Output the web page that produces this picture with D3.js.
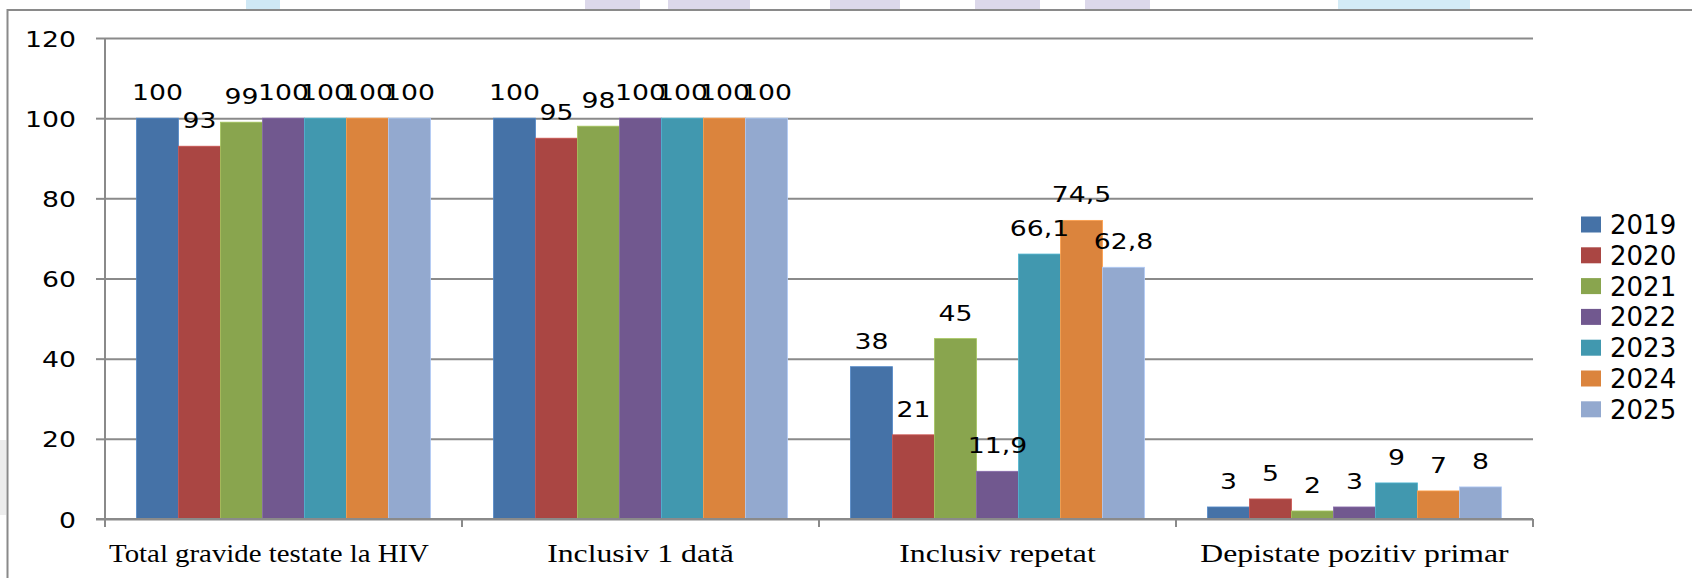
<!DOCTYPE html>
<html>
<head>
<meta charset="utf-8">
<script src="https://cdn.jsdelivr.net/npm/d3@7"></script>
<style>
html,body{margin:0;padding:0;background:#fff;}
svg{display:block;}
</style>
</head>
<body>
<svg id="chart" width="1692" height="578"></svg>
<script>
const categories = ["Total gravide testate la HIV", "Inclusiv 1 dată", "Inclusiv repetat", "Depistate pozitiv primar"];
const years = ["2019", "2020", "2021", "2022", "2023", "2024", "2025"];
const v2019 = [100, 100, 38, 3];
const v2020 = [93, 95, 21, 5];
const v2021 = [99, 98, 45, 2];
const v2022 = [100, 100, 11.9, 3];
const v2023 = [100, 100, 66.1, 9];
const v2024 = [100, 100, 74.5, 7];
const v2025 = [100, 100, 62.8, 8];
const yTicks = [0, 20, 40, 60, 80, 100, 120];
const colors = ["#4572A7", "#AA4643", "#89A54E", "#71588F", "#4198AF", "#DB843D", "#93A9CF"];

const series = [v2019, v2020, v2021, v2022, v2023, v2024, v2025];
const rows = [];
years.forEach((yr, si) => categories.forEach((c, ci) => rows.push({year: yr, cat: c, value: series[si][ci]})));

const svg = d3.select("#chart");
const SANS = "'DejaVu Sans', Verdana, sans-serif";
const SERIF = "'Liberation Serif', 'Times New Roman', serif";
const GRID = "#8a8a8a";

// faint watermark strips outside the chart frame
const wm = svg.append("g");
[[246, 280, "#cfe8f5"], [585, 640, "#dcd8ea"], [668, 750, "#dcd8ea"], [830, 900, "#dcd8ea"], [975, 1040, "#dcd8ea"], [1085, 1150, "#dcd8ea"], [1338, 1470, "#d3ebf6"]]
  .forEach(d => wm.append("rect").attr("x", d[0]).attr("y", 0).attr("width", d[1] - d[0]).attr("height", 9).attr("fill", d[2]));
wm.append("rect").attr("x", 0).attr("y", 440).attr("width", 6).attr("height", 75).attr("fill", "#ededed");

// chart frame
svg.append("path").attr("d", "M7.5,578 V10 H1692").attr("fill", "none").attr("stroke", GRID).attr("stroke-width", 2);

const pLeft = 105, pRight = 1533, pTop = 38, pBottom = 519;
const x0 = d3.scaleBand().domain(categories).range([pLeft, pRight]).padding(0);
const x1 = d3.scaleBand().domain(years).range([0, x0.bandwidth()]).paddingInner(0).paddingOuter(0.75);
const y = d3.scaleLinear().domain([0, 120]).range([pBottom, pTop]);
const color = d3.scaleOrdinal().domain(years).range(colors);

// gridlines + y axis ticks
const yAxis = d3.axisLeft(y).tickValues(yTicks).tickSize(9).tickFormat(d => d);
const gy = svg.append("g").attr("transform", `translate(${pLeft},0)`).call(yAxis);
gy.select(".domain").remove();
gy.selectAll(".tick line").attr("stroke", GRID).attr("stroke-width", 2);
gy.selectAll(".tick text").remove();
gy.selectAll(".tick").append("line").attr("x1", 0).attr("x2", pRight - pLeft).attr("stroke", GRID).attr("stroke-width", 2);

// y tick labels (stretched horizontally)
svg.append("g").selectAll("text").data(yTicks).join("text")
  .attr("transform", d => `translate(76,${y(d) + 8.5}) scale(1.27,1)`)
  .attr("text-anchor", "end").attr("font-family", SANS).attr("font-size", 21).attr("fill", "#000")
  .text(d => d);

// bars
svg.append("g").selectAll("rect").data(rows).join("rect")
  .attr("x", d => x0(d.cat) + x1(d.year))
  .attr("y", d => y(d.value))
  .attr("width", x1.bandwidth())
  .attr("height", d => y(0) - y(d.value))
  .attr("fill", d => color(d.year))
  .attr("stroke", d => d3.color(color(d.year)).brighter(0.5))
  .attr("stroke-width", 0.8);

// y axis line and x axis line
svg.append("line").attr("x1", pLeft).attr("x2", pLeft).attr("y1", pTop).attr("y2", pBottom + 8).attr("stroke", GRID).attr("stroke-width", 2);
svg.append("line").attr("x1", pLeft - 9).attr("x2", pRight).attr("y1", pBottom).attr("y2", pBottom).attr("stroke", GRID).attr("stroke-width", 2);

// category ticks
svg.append("g").selectAll("line").data(categories).join("line")
  .attr("x1", d => x0(d) + x0.bandwidth()).attr("x2", d => x0(d) + x0.bandwidth())
  .attr("y1", pBottom).attr("y2", pBottom + 8).attr("stroke", GRID).attr("stroke-width", 2);

// category labels (stretched; too-wide labels are squeezed and left-aligned in their band)
const catStretch = 1.22, catMax = 320;
svg.append("g").selectAll("text").data(categories).join("text")
  .attr("text-anchor", "middle").attr("font-family", SERIF).attr("font-size", 26).attr("fill", "#000")
  .text(d => d)
  .each(function(d) {
    const len = this.getComputedTextLength();
    let s = catStretch, cx = x0(d) + x0.bandwidth() / 2;
    if (len * catStretch > catMax) {
      s = catMax / len;
      cx = x0(d) + 4 + catMax / 2;
    }
    d3.select(this).attr("transform", `translate(${cx},562) scale(${s},1)`);
  });

// data labels
svg.append("g").selectAll("text").data(rows).join("text")
  .attr("transform", d => `translate(${x0(d.cat) + x1(d.year) + x1.bandwidth() / 2},${y(d.value) - 18}) scale(1.27,1)`)
  .attr("text-anchor", "middle").attr("font-family", SANS).attr("font-size", 21).attr("fill", "#000")
  .text(d => String(d.value).replace(".", ","));

// legend
const lg = svg.append("g").selectAll("g").data(years).join("g")
  .attr("transform", (d, i) => `translate(1581,${224.5 + i * 30.8})`);
lg.append("rect").attr("x", 0).attr("y", -8).attr("width", 20).attr("height", 16).attr("fill", d => color(d));
lg.append("text").attr("x", 29).attr("y", 9.5).attr("font-family", SANS).attr("font-size", 26).attr("fill", "#000").text(d => d);
</script>
</body>
</html>
